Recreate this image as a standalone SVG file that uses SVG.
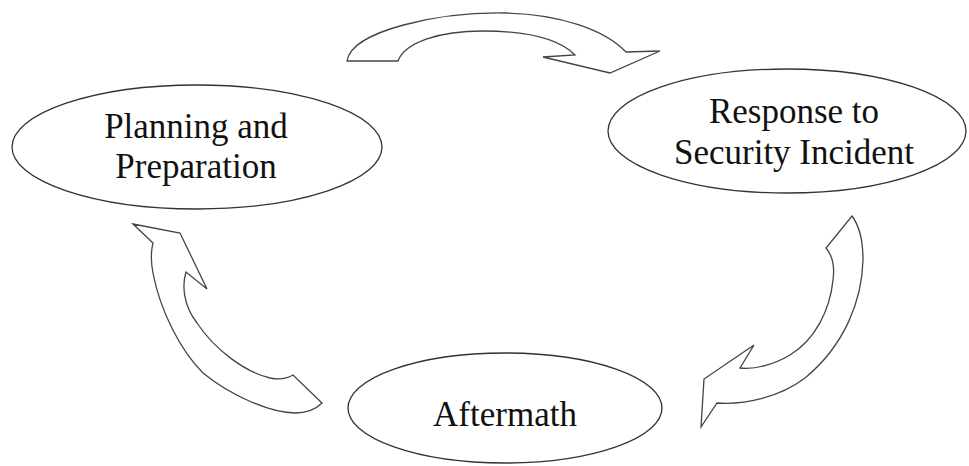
<svg xmlns="http://www.w3.org/2000/svg" width="969" height="466" viewBox="0 0 969 466">
<style>
.node ellipse{fill:#fff;stroke:#333;stroke-width:1.3}
.lbl{font-family:"Liberation Serif","Times New Roman",serif;font-size:35px;fill:#111;text-anchor:middle}
.arrow{fill:#fff;stroke:#444;stroke-width:1.3;stroke-linejoin:miter}
</style>
<rect width="969" height="466" fill="#fff"/>
<g id="connectors">
<path id="arrow-top" class="arrow" d="M347,61 C352,30 440,12 505,13 C560,14 605,30 626,52 L660,51 L610,73 L543,57 L575,55 C560,40 530,31 483,31 C440,31 405,42 398,61 Z"/>
<path id="arrow-right" class="arrow" d="M852,216 C858,224 863,236 863,260 C862,300 845,345 805,378 C780,397 745,405 717,403 L701,427 L704,379 L754,345 L740,368 C755,370 775,364 790,355 C815,340 830,310 833,280 C835,265 832,255 826,248 Z"/>
<path id="arrow-left" class="arrow" d="M133,224 L180,233 L207,289 L186,272 C182,285 183,305 197,323 C215,350 245,372 270,378 C280,380 288,378 293,375 L322,403 C315,410 305,413 295,413 C270,413 230,395 203,373 C180,350 160,310 153,273 C151,263 151,255 152,248 L153,243 Z"/>
</g>
<g id="node-planning" class="node">
<ellipse cx="197" cy="147" rx="185" ry="62"/>
<text class="lbl" x="196" y="138">Planning and</text>
<text class="lbl" x="196" y="178">Preparation</text>
</g>
<g id="node-response" class="node">
<ellipse cx="787" cy="131" rx="179" ry="62"/>
<text class="lbl" x="794" y="123">Response to</text>
<text class="lbl" x="794" y="164">Security Incident</text>
</g>
<g id="node-aftermath" class="node">
<ellipse cx="505" cy="408" rx="157" ry="55"/>
<text class="lbl" x="505" y="426">Aftermath</text>
</g>
</svg>
